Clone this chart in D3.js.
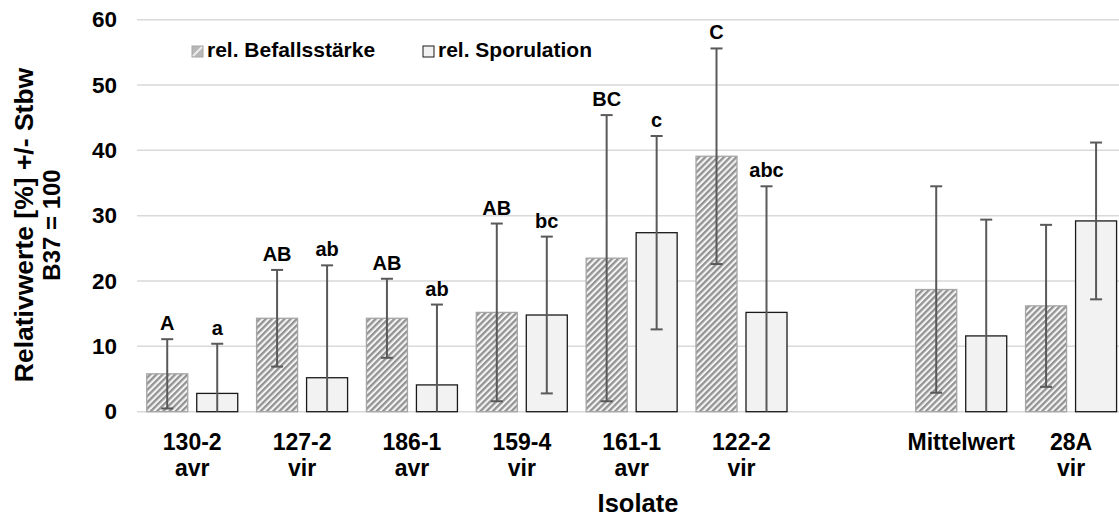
<!DOCTYPE html>
<html>
<head>
<meta charset="utf-8">
<script src="https://cdn.jsdelivr.net/npm/d3@7"></script>
<style>
  body { margin: 0; background: #fff; }
  svg { display: block; }
  text { font-family: "Liberation Sans", Arial, sans-serif; font-weight: bold; fill: #000; }
</style>
</head>
<body>
<svg id="chart" width="1119" height="519"></svg>
<script>
// Isolates (two-line labels split on "|"); the empty entry leaves a gap before the mean
const categories = ["130-2|avr", "127-2|vir", "186-1|avr", "159-4|vir", "161-1|avr", "122-2|vir", "", "Mittelwert", "28A|vir"];
const seriesNames = ["rel. Befallsstärke", "rel. Sporulation"];
const befall = [5.8, 14.3, 14.3, 15.2, 23.5, 39.1, null, 18.7, 16.2];
const befallSd = [5.3, 7.4, 6.05, 13.6, 21.9, 16.5, null, 15.8, 12.4];
const sporulation = [2.8, 5.2, 4.1, 14.8, 27.4, 15.2, null, 11.6, 29.2];
const sporulationSd = [7.6, 17.2, 12.3, 12.0, 14.8, 19.3, null, 17.8, 12.0];
const befallLetters = ["A", "AB", "AB", "AB", "BC", "C", "", "", ""];
const sporulationLetters = ["a", "ab", "ab", "bc", "c", "abc", "", "", ""];
const yTicks = [0, 10, 20, 30, 40, 50, 60];

const svg = d3.select("#chart");
const W = 1119;

const plot = { left: 137.3, right: 1126, top: 19.7, bottom: 411.7 };

const x0 = d3.scaleBand().domain(categories).range([plot.left, plot.right]).padding(0);
const x1 = d3.scaleBand().domain(seriesNames).range([0, x0.bandwidth()])
  .paddingInner(0.18).paddingOuter(0.1885);
const y = d3.scaleLinear().domain([0, 60]).range([plot.bottom, plot.top]);

// hatch pattern for the infection-severity bars
const defs = svg.append("defs");
const pat = defs.append("pattern")
  .attr("id", "hatch")
  .attr("patternUnits", "userSpaceOnUse")
  .attr("width", 4.4).attr("height", 4.4)
  .attr("patternTransform", "rotate(45)");
pat.append("rect").attr("width", 4.4).attr("height", 4.4).attr("fill", "#f4f4f4");
pat.append("rect").attr("width", 2.3).attr("height", 4.4).attr("fill", "#939393");

const styles = {
  "rel. Befallsstärke": { fill: "url(#hatch)", stroke: "#a6a6a6" },
  "rel. Sporulation": { fill: "#f2f2f2", stroke: "#1a1a1a" }
};

// gridlines
svg.append("g").selectAll("line").data(yTicks).join("line")
  .attr("x1", 137).attr("x2", W)
  .attr("y1", d => y(d)).attr("y2", d => y(d))
  .attr("stroke", "#d9d9d9").attr("stroke-width", 1.5);

// y axis labels
const yAxis = d3.axisLeft(y).tickValues(yTicks).tickSize(0).tickPadding(20);
const gy = svg.append("g").attr("transform", `translate(137,0)`).call(yAxis);
gy.select(".domain").remove();
gy.selectAll("text")
  .style("font-family", '"Liberation Sans", Arial, sans-serif')
  .style("font-weight", "bold").style("font-size", "22.5px").attr("fill", "#000");

// assemble series rows
const rows = categories.map((c, i) => ({
  cat: c,
  series: [
    { name: seriesNames[0], v: befall[i], sd: befallSd[i], letter: befallLetters[i] },
    { name: seriesNames[1], v: sporulation[i], sd: sporulationSd[i], letter: sporulationLetters[i] }
  ].filter(s => s.v != null)
}));

const groups = svg.append("g").selectAll("g").data(rows).join("g")
  .attr("transform", d => `translate(${x0(d.cat)},0)`);

// bars
groups.selectAll("rect").data(d => d.series).join("rect")
  .attr("x", d => x1(d.name))
  .attr("width", x1.bandwidth())
  .attr("y", d => y(d.v))
  .attr("height", d => y(0) - y(d.v))
  .attr("fill", d => styles[d.name].fill)
  .attr("stroke", d => styles[d.name].stroke)
  .attr("stroke-width", 1.3);

// error bars (+/- standard deviation, clipped at the axis)
const eb = groups.selectAll("g.err").data(d => d.series).join("g").attr("class", "err")
  .attr("transform", d => `translate(${x1(d.name) + x1.bandwidth() / 2},0)`);
const cap = 6;
eb.append("line")
  .attr("y1", d => y(d.v + d.sd)).attr("y2", d => y(Math.max(0, d.v - d.sd)))
  .attr("stroke", "#595959").attr("stroke-width", 2);
eb.append("line")
  .attr("x1", -cap).attr("x2", cap)
  .attr("y1", d => y(d.v + d.sd)).attr("y2", d => y(d.v + d.sd))
  .attr("stroke", "#595959").attr("stroke-width", 2);
eb.filter(d => d.v - d.sd > 0).append("line")
  .attr("x1", -cap).attr("x2", cap)
  .attr("y1", d => y(d.v - d.sd)).attr("y2", d => y(d.v - d.sd))
  .attr("stroke", "#595959").attr("stroke-width", 2);

// significance letters
eb.append("text")
  .attr("text-anchor", "middle")
  .attr("y", d => y(d.v + d.sd) - 9)
  .style("font-size", "20px")
  .text(d => d.letter);

// category labels
const catLabels = svg.append("g").selectAll("text").data(categories).join("text")
  .attr("text-anchor", "middle")
  .attr("x", d => x0(d) + x0.bandwidth() / 2)
  .attr("y", 450)
  .style("font-size", "23px");
catLabels.selectAll("tspan").data(d => d.split("|")).join("tspan")
  .attr("x", function () { return this.parentNode.getAttribute("x"); })
  .attr("dy", (d, i) => i === 0 ? 0 : 26)
  .text(d => d);

// axis titles
svg.append("text").attr("x", 638).attr("y", 512).attr("text-anchor", "middle")
  .style("font-size", "25.5px").text("Isolate");

const yt = svg.append("text").attr("transform", "translate(33,225) rotate(-90)")
  .attr("text-anchor", "middle");
yt.append("tspan").attr("x", 0).attr("dy", 0).style("font-size", "26.5px").text("Relativwerte [%] +/- Stbw");
yt.append("tspan").attr("x", 0).attr("dy", 27).style("font-size", "24px").text("B37 = 100");

// legend
const legendX = [192, 423];
const leg = svg.append("g").selectAll("g").data(seriesNames).join("g")
  .attr("transform", (d, i) => `translate(${legendX[i]},46)`);
leg.append("rect").attr("width", 11).attr("height", 11)
  .attr("fill", d => d === seriesNames[0] ? "#b8b8b8" : "#f2f2f2")
  .attr("stroke", d => d === seriesNames[0] ? "#a6a6a6" : "#1a1a1a").attr("stroke-width", 1);
leg.filter((d, i) => i === 0).append("line")
  .attr("x1", 1).attr("y1", 10).attr("x2", 10).attr("y2", 1)
  .attr("stroke", "#ececec").attr("stroke-width", 2);
leg.append("text").attr("x", 15).attr("y", 11).style("font-size", "21px").text(d => d);
</script>
</body>
</html>
